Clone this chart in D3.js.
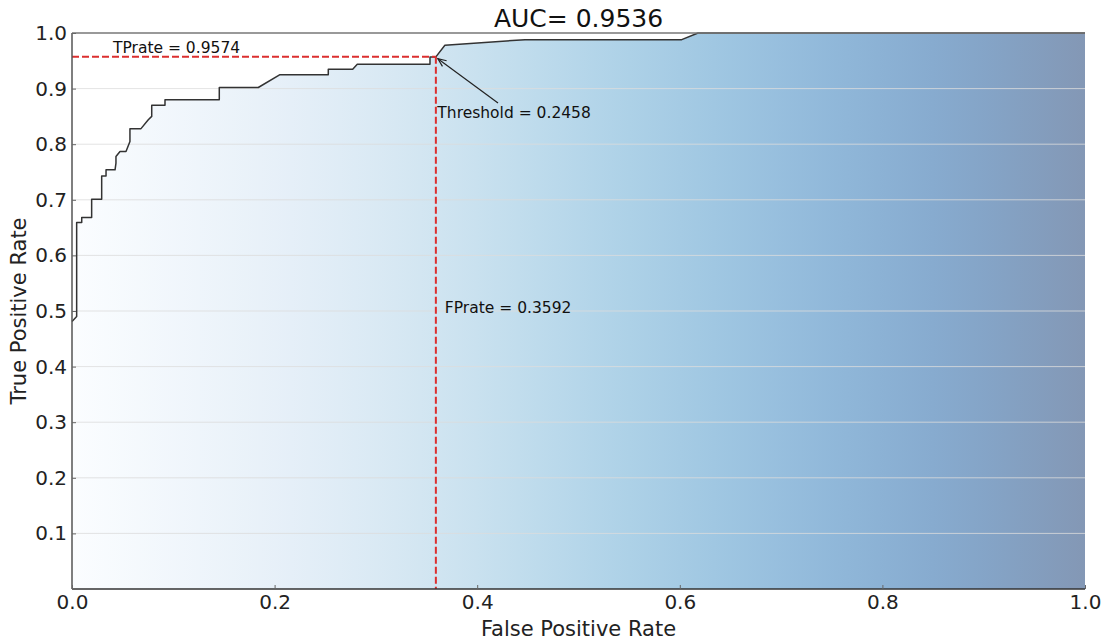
<!DOCTYPE html>
<html>
<head>
<meta charset="utf-8">
<script src="https://cdn.jsdelivr.net/npm/d3@7"></script>
<style>
  html, body { margin: 0; padding: 0; background: #fff; }
  svg { display: block; font-family: "DejaVu Sans", sans-serif; }
</style>
</head>
<body>
<svg id="chart" width="1108" height="642"></svg>
<script>
// ROC curve points (False Positive Rate, True Positive Rate)
const fprValues = [0, 0.0046, 0.0046, 0.0096, 0.0096, 0.0194, 0.0194, 0.0293, 0.0293, 0.0336, 0.0336, 0.0425, 0.0434, 0.0434, 0.0474, 0.0533, 0.0572, 0.0572, 0.0681, 0.0753, 0.0787, 0.0787, 0.0918, 0.0918, 0.1454, 0.1454, 0.1839, 0.2053, 0.2530, 0.2530, 0.2771, 0.2816, 0.3534, 0.3534, 0.3592, 0.3681, 0.4472, 0.6019, 0.6180, 1.0];
const tprValues = [0.481, 0.490, 0.659, 0.659, 0.668, 0.668, 0.701, 0.701, 0.743, 0.743, 0.754, 0.754, 0.766, 0.778, 0.787, 0.787, 0.805, 0.828, 0.828, 0.844, 0.850, 0.870, 0.870, 0.880, 0.880, 0.902, 0.902, 0.925, 0.925, 0.935, 0.935, 0.944, 0.944, 0.957, 0.957, 0.978, 0.988, 0.988, 1.0, 1.0];

const aucValue = 0.9536;
const thresholdValue = 0.2458;
const opFPR = 0.3592;
const opTPR = 0.9574;

const xTickValues = [0.0, 0.2, 0.4, 0.6, 0.8, 1.0];
const yTickValues = [0.1, 0.2, 0.3, 0.4, 0.5, 0.6, 0.7, 0.8, 0.9, 1.0];
const gridValues = [0.1, 0.2, 0.3, 0.4, 0.5, 0.6, 0.7, 0.8, 0.9];

const titleText = "AUC= " + aucValue.toFixed(4);
const xLabel = "False Positive Rate";
const yLabel = "True Positive Rate";

const svg = d3.select("#chart");
const L = 72, R = 1085, T = 33, B = 589;
const x = d3.scaleLinear().domain([0, 1]).range([L, R]);
const y = d3.scaleLinear().domain([0, 1]).range([B, T]);

const pts = fprValues.map((f, i) => [f, tprValues[i]]);

// gradient (Blues, half transparent)
const defs = svg.append("defs");
const grad = defs.append("linearGradient").attr("id", "g")
  .attr("gradientUnits", "userSpaceOnUse")
  .attr("x1", x(0)).attr("x2", x(1)).attr("y1", 0).attr("y2", 0);
d3.range(0, 1.0001, 0.05).forEach(t => {
  grad.append("stop").attr("offset", t).attr("stop-color", d3.interpolateBlues(t)).attr("stop-opacity", 0.5);
});

// fill under curve
svg.append("path")
  .datum(pts)
  .attr("fill", "url(#g)")
  .attr("d", d3.area().x(d => x(d[0])).y0(y(0)).y1(d => y(d[1])));

// grid
svg.append("g").selectAll("line").data(gridValues).join("line")
  .attr("x1", x(0)).attr("x2", x(1))
  .attr("y1", d => y(d)).attr("y2", d => y(d))
  .attr("stroke", "#dcdcdc").attr("stroke-opacity", 0.8).attr("stroke-width", 1);

// curve
svg.append("path")
  .datum(pts)
  .attr("fill", "none")
  .attr("stroke", "#333")
  .attr("stroke-width", 1.5)
  .attr("stroke-linejoin", "round")
  .attr("d", d3.line().x(d => x(d[0])).y(d => y(d[1])));

// dashed operating point lines
svg.append("line")
  .attr("x1", x(0)).attr("x2", x(opFPR)).attr("y1", y(opTPR)).attr("y2", y(opTPR))
  .attr("stroke", "#dc2f2f").attr("stroke-width", 2).attr("stroke-dasharray", "7,3");
svg.append("line")
  .attr("x1", x(opFPR)).attr("x2", x(opFPR)).attr("y1", y(opTPR)).attr("y2", y(0))
  .attr("stroke", "#dc2f2f").attr("stroke-width", 2).attr("stroke-dasharray", "7,3");

// spines
svg.append("line").attr("x1", L).attr("x2", R).attr("y1", T).attr("y2", T).attr("stroke", "#777").attr("stroke-width", 1.5);
svg.append("line").attr("x1", L).attr("x2", L).attr("y1", T).attr("y2", B).attr("stroke", "#555").attr("stroke-width", 1.5);
svg.append("line").attr("x1", L).attr("x2", R).attr("y1", B).attr("y2", B).attr("stroke", "#333").attr("stroke-width", 1.5);

// axes
const xAxis = d3.axisBottom(x).tickValues(xTickValues).tickFormat(d3.format(".1f")).tickSizeInner(-4).tickSizeOuter(0).tickPadding(6);
const yAxis = d3.axisLeft(y).tickValues(yTickValues).tickFormat(d3.format(".1f")).tickSizeInner(-4).tickSizeOuter(0).tickPadding(5);

const gx = svg.append("g").attr("transform", `translate(0,${B})`).call(xAxis);
const gy = svg.append("g").attr("transform", `translate(${L},0)`).call(yAxis);
[gx, gy].forEach(g => {
  g.select(".domain").remove();
  g.selectAll(".tick line").attr("stroke", "#666");
  g.selectAll(".tick text").attr("fill", "#222").style("font-size", "20px").style("font-family", "DejaVu Sans");
});

// titles
svg.append("text").attr("x", (L + R) / 2).attr("y", 26.5).attr("text-anchor", "middle")
  .style("font-size", "25px").attr("fill", "#111").text(titleText);
svg.append("text").attr("x", (L + R) / 2).attr("y", 636).attr("text-anchor", "middle")
  .style("font-size", "21px").attr("fill", "#222").text(xLabel);
svg.append("text").attr("transform", `translate(26,${(T + B) / 2}) rotate(-90)`).attr("text-anchor", "middle")
  .style("font-size", "21px").attr("fill", "#222").text(yLabel);

// annotations
svg.append("text").attr("x", 113).attr("y", 52.5).style("font-size", "15.5px").attr("fill", "#111")
  .text("TPrate = " + opTPR.toFixed(4));
svg.append("text").attr("x", x(opFPR) + 1.5).attr("y", 118).style("font-size", "15.5px").attr("fill", "#111")
  .text("Threshold = " + thresholdValue.toFixed(4));
svg.append("text").attr("x", x(opFPR) + 9).attr("y", 313).style("font-size", "15.5px").attr("fill", "#111")
  .text("FPrate = " + opFPR.toFixed(4));

// arrow
const ax = x(opFPR) + 2, ay = y(opTPR) + 2;
const bx = 498, by = 103;
svg.append("line").attr("x1", bx).attr("y1", by).attr("x2", ax).attr("y2", ay).attr("stroke", "#222").attr("stroke-width", 1.2);
const ang = Math.atan2(by - ay, bx - ax);
const hl = 9, ha = 0.4;
svg.append("path")
  .attr("d", `M${ax + hl * Math.cos(ang + ha)},${ay + hl * Math.sin(ang + ha)} L${ax},${ay} L${ax + hl * Math.cos(ang - ha)},${ay + hl * Math.sin(ang - ha)}`)
  .attr("fill", "none").attr("stroke", "#222").attr("stroke-width", 1.2);
</script>
</body>
</html>
